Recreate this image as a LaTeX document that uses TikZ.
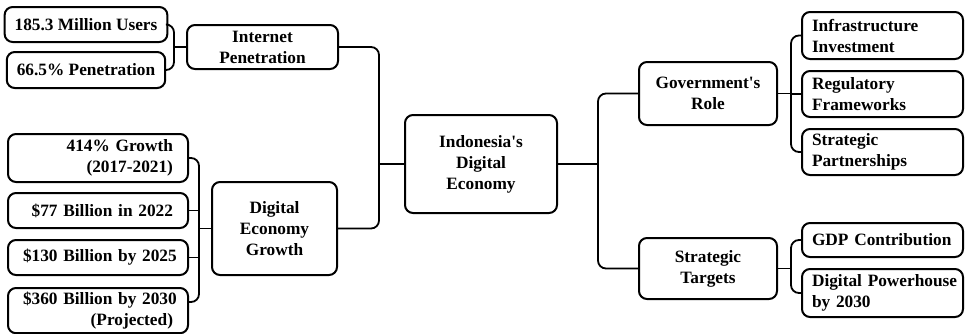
\documentclass[tikz,border=0pt]{standalone}
\usepackage{fontspec}
\setmainfont{Liberation Serif}[Ligatures=TeXOff]

\tikzset{
	box/.style={draw, rounded corners=8pt, line width=2pt, inner xsep=10pt, inner ysep=2pt,
		font=\bfseries\fontsize{17.3}{21}\selectfont},
	hub/.style={box, align=center},
	leafR/.style={box, align=right, inner xsep=15pt, text width=150pt},
	leafL/.style={box, align=left, inner xsep=10pt, text width=141pt},
	link/.style={line width=1.8pt, rounded corners=8pt}
}

\begin{document}
\begin{tikzpicture}[x=1pt, y=-1pt]
				\useasboundingbox (0,0) rectangle (965,333);
				\clip (0,0) rectangle (965,333);
				% Root
				\node[hub, minimum width=152pt, minimum height=98pt] (root) at (481,164) {Indonesia's\\Digital\\Economy};
				% Internet penetration
				\node[hub, minimum width=151pt, minimum height=44pt] (net) at (262.5,47) {Internet\\Penetration};
				\node[hub, minimum width=158pt, minimum height=35pt] (net1) at (86,24.5) {185.3 Million Users};
				\node[hub, minimum width=158pt, minimum height=36pt] (net2) at (86,70) {66.5\% Penetration};
				% Growth
				\node[hub, minimum width=125pt, minimum height=93pt] (grow) at (274.5,228.5) {Digital\\Economy\\Growth};
				\node[leafR, minimum height=48pt] (grow1) at (98,158) {414\% Growth\\(2017-2021)};
				\node[leafR, minimum height=35pt] (grow2) at (98,210.5) {\mbox{\$77 Billion in 2022}};
				\node[leafR, minimum height=35pt] (grow3) at (98,257.5) {\mbox{\$130 Billion by 2025}};
				\node[leafR, inner ysep=4pt, anchor=north] (grow4) at (98,287) {\mbox{\$360 Billion by 2030}\\(Projected)};
				% Government
				\node[hub, minimum width=138pt, minimum height=63pt] (gov) at (708,93.5) {Government's\\Role};
				\node[leafL, minimum height=47pt] (gov1) at (882.5,35.5) {Infrastructure\\Investment};
				\node[leafL, minimum height=46pt] (gov2) at (882.5,94) {Regulatory\\Frameworks};
				\node[leafL, minimum height=46pt] (gov3) at (882.5,152) {Strategic\\Partnerships};
				% Targets
				\node[hub, minimum width=138pt, minimum height=61pt] (tgt) at (708,268.5) {Strategic\\Targets};
				\node[leafL, minimum height=34pt] (tgt1) at (882.5,240) {GDP Contribution};
				\node[leafL, minimum height=48pt] (tgt2) at (882.5,293) {\mbox{Digital Powerhouse}\\by 2030};

				% Connectors
				\draw[link] (root.west) -- ++(-25,0) coordinate (lj);
				\draw[link] (net.east) -| (lj) |- (grow.east);
				\draw[link] (root.east) -- ++(40,0) coordinate (rj);
				\draw[link] (gov.west) -| (rj) |- (tgt.west);

				\draw[link] (net.west) -- ++(-12,0) coordinate (nj);
				\draw[link] (net1.east) -| (nj) |- (net2.east);

				\draw[link] (grow.west) -- ++(-12,0) coordinate (gj);
				\draw[link] (grow1.east) -| (gj) |- ([yshift=-15pt]grow4.north east);
				\draw[link] (grow2.east) -- (grow2.east -| gj);
				\draw[link] (grow3.east) -- (grow3.east -| gj);

				\draw[link] (gov.east) -- ++(13,0) coordinate (vj);
				\draw[link] (gov1.west) -| (vj) |- (gov3.west);
				\draw[link] (gov2.west) -- (gov2.west -| vj);

				\draw[link] (tgt.east) -- ++(13,0) coordinate (tj);
				\draw[link] (tgt1.west) -| (tj) |- (tgt2.west);
			\end{tikzpicture}
\end{document}
